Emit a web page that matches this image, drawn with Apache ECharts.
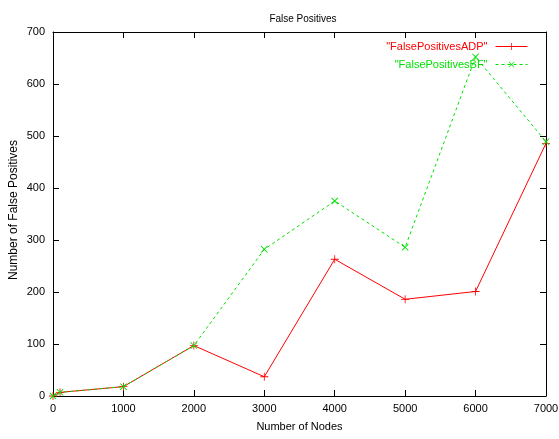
<!DOCTYPE html>
<html><head><meta charset="utf-8">
<script src="https://cdn.jsdelivr.net/npm/echarts@6/dist/echarts.min.js"></script>
<style>html,body{margin:0;padding:0;background:#fff}#c{width:559px;height:439px}</style>
</head><body><div id="c"></div>
<script>
const nodes = [0, 100, 1000, 2000, 3000, 4000, 5000, 6000, 7000];
const fpADP = [0, 7, 18, 97, 37, 263, 186, 201, 486];
const fpBF  = [0, 7, 18, 97, 282, 375, 286, 652, 489];
const xTicks = [0, 1000, 2000, 3000, 4000, 5000, 6000, 7000];
const yTicks = [0, 100, 200, 300, 400, 500, 600, 700];
const nameADP = '"FalsePositivesADP"';
const nameBF = '"FalsePositivesBF"';

const plus = 'path://M4.5,0H5.5V4.5H10V5.5H5.5V10H4.5V5.5H0V4.5H4.5Z';
const font = 'Liberation Sans, Arial, sans-serif';
const chart = echarts.init(document.getElementById('c'), null, {renderer: 'canvas'});
const axisCommon = {
  axisLine: {show: true, onZero: false, lineStyle: {color: '#000', width: 1}},
  axisTick: {show: true, inside: true, length: 6, lineStyle: {color: '#000'}},
  splitLine: {show: false}
};
chart.setOption({
  animation: false,
  backgroundColor: '#fff',
  title: {text: 'False Positives', left: 298, top: 9, textAlign: 'center',
    textStyle: {fontFamily: font, fontSize: 10, fontWeight: 'normal', color: '#000'}},
  legend: {
    orient: 'vertical', right: 26, top: 36, align: 'right', itemWidth: 32, itemHeight: 9, itemGap: 7,
    lineStyle: {width: 1},
    textStyle: {fontFamily: font, fontSize: 11, padding: [0, 3, 0, 0]},
    data: [
      {name: nameADP, textStyle: {color: '#ff0000'}},
      {name: nameBF, textStyle: {color: '#00e000'}}
    ]
  },
  graphic: [{
    type: 'text', x: 14, y: 210, rotation: Math.PI / 2,
    style: {text: 'Number of False Positives', fontFamily: font, fontSize: 12, fill: '#000',
      align: 'center', verticalAlign: 'middle'}
  }],
  grid: {left: 53, right: 13, top: 32, bottom: 43, containLabel: false, outerBoundsMode: 'none'},
  xAxis: [
    Object.assign({type: 'value', min: 0, max: 7000, interval: 1000, position: 'bottom',
      name: 'Number of Nodes', nameLocation: 'middle', nameGap: 25,
      nameTextStyle: {fontFamily: font, fontSize: 11, color: '#000'},
      axisLabel: {fontFamily: font, fontSize: 11, color: '#000', margin: 7,
        formatter: v => String(v)}}, axisCommon),
    Object.assign({type: 'value', min: 0, max: 7000, interval: 1000, position: 'top',
      axisLabel: {show: false}}, axisCommon)
  ],
  yAxis: [
    Object.assign({type: 'value', min: 0, max: 700, interval: 100, position: 'left',
      axisLabel: {fontFamily: font, fontSize: 11, color: '#000', margin: 8,
        formatter: v => String(v)}}, axisCommon),
    Object.assign({type: 'value', min: 0, max: 700, interval: 100, position: 'right',
      axisLabel: {show: false}}, axisCommon)
  ],
  series: [
    {name: nameADP, type: 'line', xAxisIndex: 0, yAxisIndex: 0,
      data: nodes.map((x, i) => [x, fpADP[i]]),
      symbol: plus, symbolSize: 8, showSymbol: true,
      lineStyle: {color: '#ff0000', width: 1},
      itemStyle: {color: '#ff0000'}},
    {name: nameBF, type: 'line', xAxisIndex: 0, yAxisIndex: 0,
      data: nodes.map((x, i) => [x, fpBF[i]]),
      symbol: plus, symbolSize: 9, symbolRotate: 45, showSymbol: true,
      lineStyle: {color: '#00e000', width: 1, type: [3, 3]},
      itemStyle: {color: '#00e000'}}
  ]
});
</script></body></html>
